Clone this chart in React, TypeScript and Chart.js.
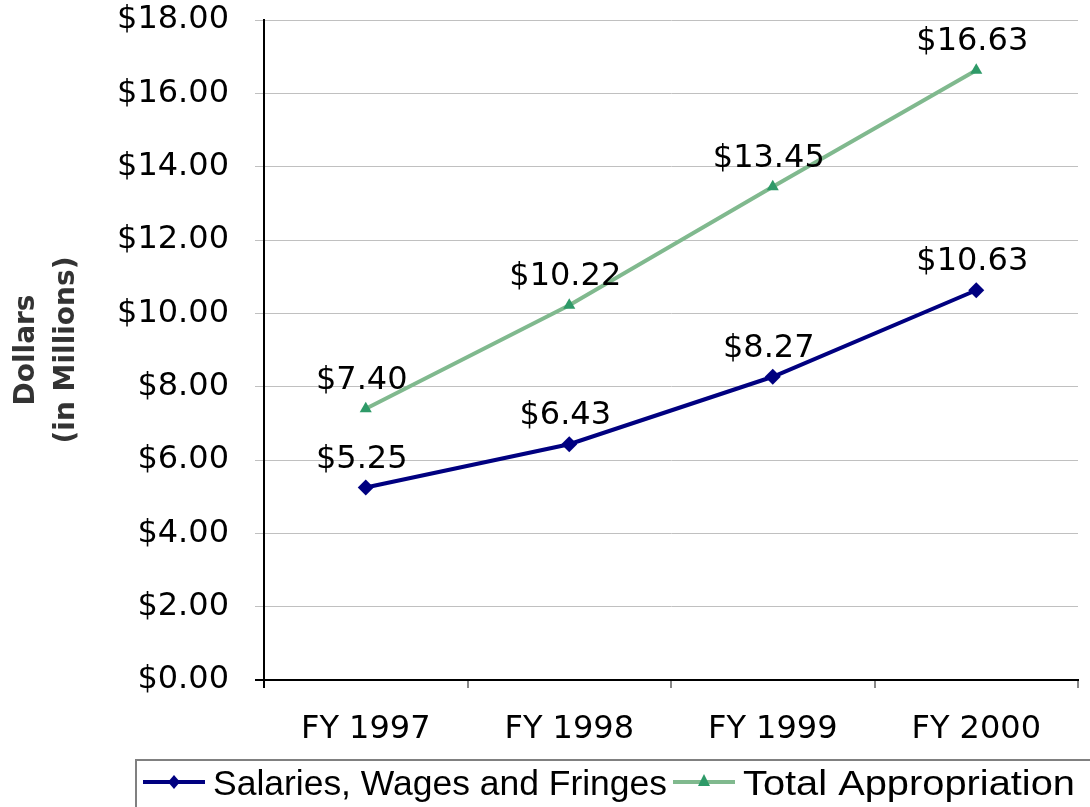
import React, { useEffect, useRef } from "react";
import { Chart, registerables } from "chart.js";

Chart.register(...registerables);

const categories = ["FY 1997", "FY 1998", "FY 1999", "FY 2000"];
const salaries = [5.25, 6.43, 8.27, 10.63];
const totalAppropriation = [7.4, 10.22, 13.45, 16.63];
const seriesNames = ["Salaries, Wages and Fringes", "Total Appropriation"];
const legendTextWidths = [454, 332];
const yTitle = ["Dollars", "(in Millions)"];
const yMin = 0;
const yMax = 18;
const yStep = 2;

const NAVY = "#000080";
const GREEN_LINE = "#80b98e";
const GREEN_MARK = "#2e9a68";

const fmt = (v: number) => "$" + v.toFixed(2);

const dataLabelPlugin = {
  id: "dataLabels",
  afterDatasetsDraw(chart: any) {
    const ctx = chart.ctx;
    ctx.save();
    ctx.font = "32px 'DejaVu Sans'";
    ctx.fillStyle = "#000";
    ctx.textAlign = "center";
    ctx.textBaseline = "alphabetic";
    chart.data.datasets.forEach((ds: any, i: number) => {
      const meta = chart.getDatasetMeta(i);
      meta.data.forEach((pt: any, j: number) => {
        ctx.fillText(fmt(ds.data[j]), pt.x - 4, pt.y - 20);
      });
    });
    ctx.restore();
  },
};

const legendBoxPlugin = {
  id: "legendBox",
  afterDraw(chart: any) {
    const ctx = chart.ctx;
    ctx.save();
    ctx.strokeStyle = "#808080";
    ctx.lineWidth = 2;
    ctx.strokeRect(136, 760, 960, 60);
    ctx.font = "35px 'Liberation Sans'";
    ctx.textBaseline = "alphabetic";
    ctx.textAlign = "left";
    const cy = 782;
    let x = 143;
    chart.data.datasets.forEach((ds: any, i: number) => {
      ctx.strokeStyle = ds.borderColor;
      ctx.lineWidth = 4;
      ctx.beginPath();
      ctx.moveTo(x, cy);
      ctx.lineTo(x + 62, cy);
      ctx.stroke();
      ctx.fillStyle = ds.pointBackgroundColor;
      const mx = x + 31;
      ctx.beginPath();
      if (ds.pointStyle === "rectRot") {
        ctx.moveTo(mx, cy - 7);
        ctx.lineTo(mx + 6, cy);
        ctx.lineTo(mx, cy + 7);
        ctx.lineTo(mx - 6, cy);
      } else {
        ctx.moveTo(mx, cy - 8);
        ctx.lineTo(mx + 6, cy + 4);
        ctx.lineTo(mx - 6, cy + 4);
      }
      ctx.closePath();
      ctx.fill();
      ctx.fillStyle = "#000";
      const label = seriesNames[i];
      const natural = ctx.measureText(label).width;
      const target = legendTextWidths[i];
      ctx.save();
      ctx.translate(x + 70, 795);
      ctx.scale(target / natural, 1);
      ctx.fillText(label, 0, 0);
      ctx.restore();
      x += 70 + target + 6;
    });
    ctx.restore();
  },
};

export default function App() {
  const ref = useRef<HTMLCanvasElement | null>(null);

  useEffect(() => {
    if (!ref.current) return;
    const chart = new Chart(ref.current, {
      type: "line",
      data: {
        labels: categories,
        datasets: [
          {
            label: seriesNames[0],
            data: salaries,
            borderColor: NAVY,
            backgroundColor: NAVY,
            pointBackgroundColor: NAVY,
            pointBorderWidth: 0,
            borderWidth: 4,
            pointStyle: "rectRot",
            pointRadius: 8,
            tension: 0,
          },
          {
            label: seriesNames[1],
            data: totalAppropriation,
            borderColor: GREEN_LINE,
            backgroundColor: GREEN_MARK,
            pointBackgroundColor: GREEN_MARK,
            pointBorderWidth: 0,
            borderWidth: 4,
            pointStyle: "triangle",
            pointRadius: 7,
            tension: 0,
          },
        ],
      },
      options: {
        responsive: false,
        animation: false,
        devicePixelRatio: 1,
        layout: { padding: { top: 20, right: 12, bottom: 57, left: 0 } },
        plugins: {
          legend: { display: false },
          tooltip: { enabled: false },
        },
        scales: {
          x: {
            offset: true,
            grid: {
              offset: true,
              drawOnChartArea: false,
              drawTicks: true,
              tickLength: 8,
              lineWidth: 2,
              color: (c: any) => (c.index === 0 ? "#000" : "#888"),
            },
            border: { display: true, color: "#000", width: 2 },
            ticks: {
              color: "#000",
              padding: 22,
              font: { family: "'DejaVu Sans'", size: 32 },
              maxRotation: 0,
            },
            afterFit: (s: any) => {
              s.height = 70;
            },
          },
          y: {
            min: yMin,
            max: yMax,
            grid: {
              tickLength: 9,
              color: (c: any) => (c.tick && c.tick.value === 0 ? "#000" : "#c0c0c0"),
              lineWidth: (c: any) => (c.tick && c.tick.value === 0 ? 2 : 1),
            },
            border: { display: true, color: "#000", width: 2 },
            ticks: {
              stepSize: yStep,
              color: "#000",
              padding: 26,
              font: { family: "'DejaVu Sans'", size: 32 },
              callback: (v: any) => fmt(Number(v)),
            },
            title: {
              display: true,
              text: yTitle,
              color: "#333",
              font: { family: "'DejaVu Sans'", size: 28, weight: "bold", lineHeight: 1.45 },
              padding: { top: 6, bottom: 0 },
            },
            afterFit: (s: any) => {
              s.width = 264;
              s.paddingTop = 0;
              s.paddingBottom = 0;
            },
          },
        },
      },
      plugins: [dataLabelPlugin, legendBoxPlugin],
    });
    return () => chart.destroy();
  }, []);

  return (
    <div style={{ position: "absolute", left: 0, top: 0, width: 1090, height: 807, background: "#fff" }}>
      <canvas ref={ref} width={1090} height={807} style={{ display: "block" }} />
    </div>
  );
}
